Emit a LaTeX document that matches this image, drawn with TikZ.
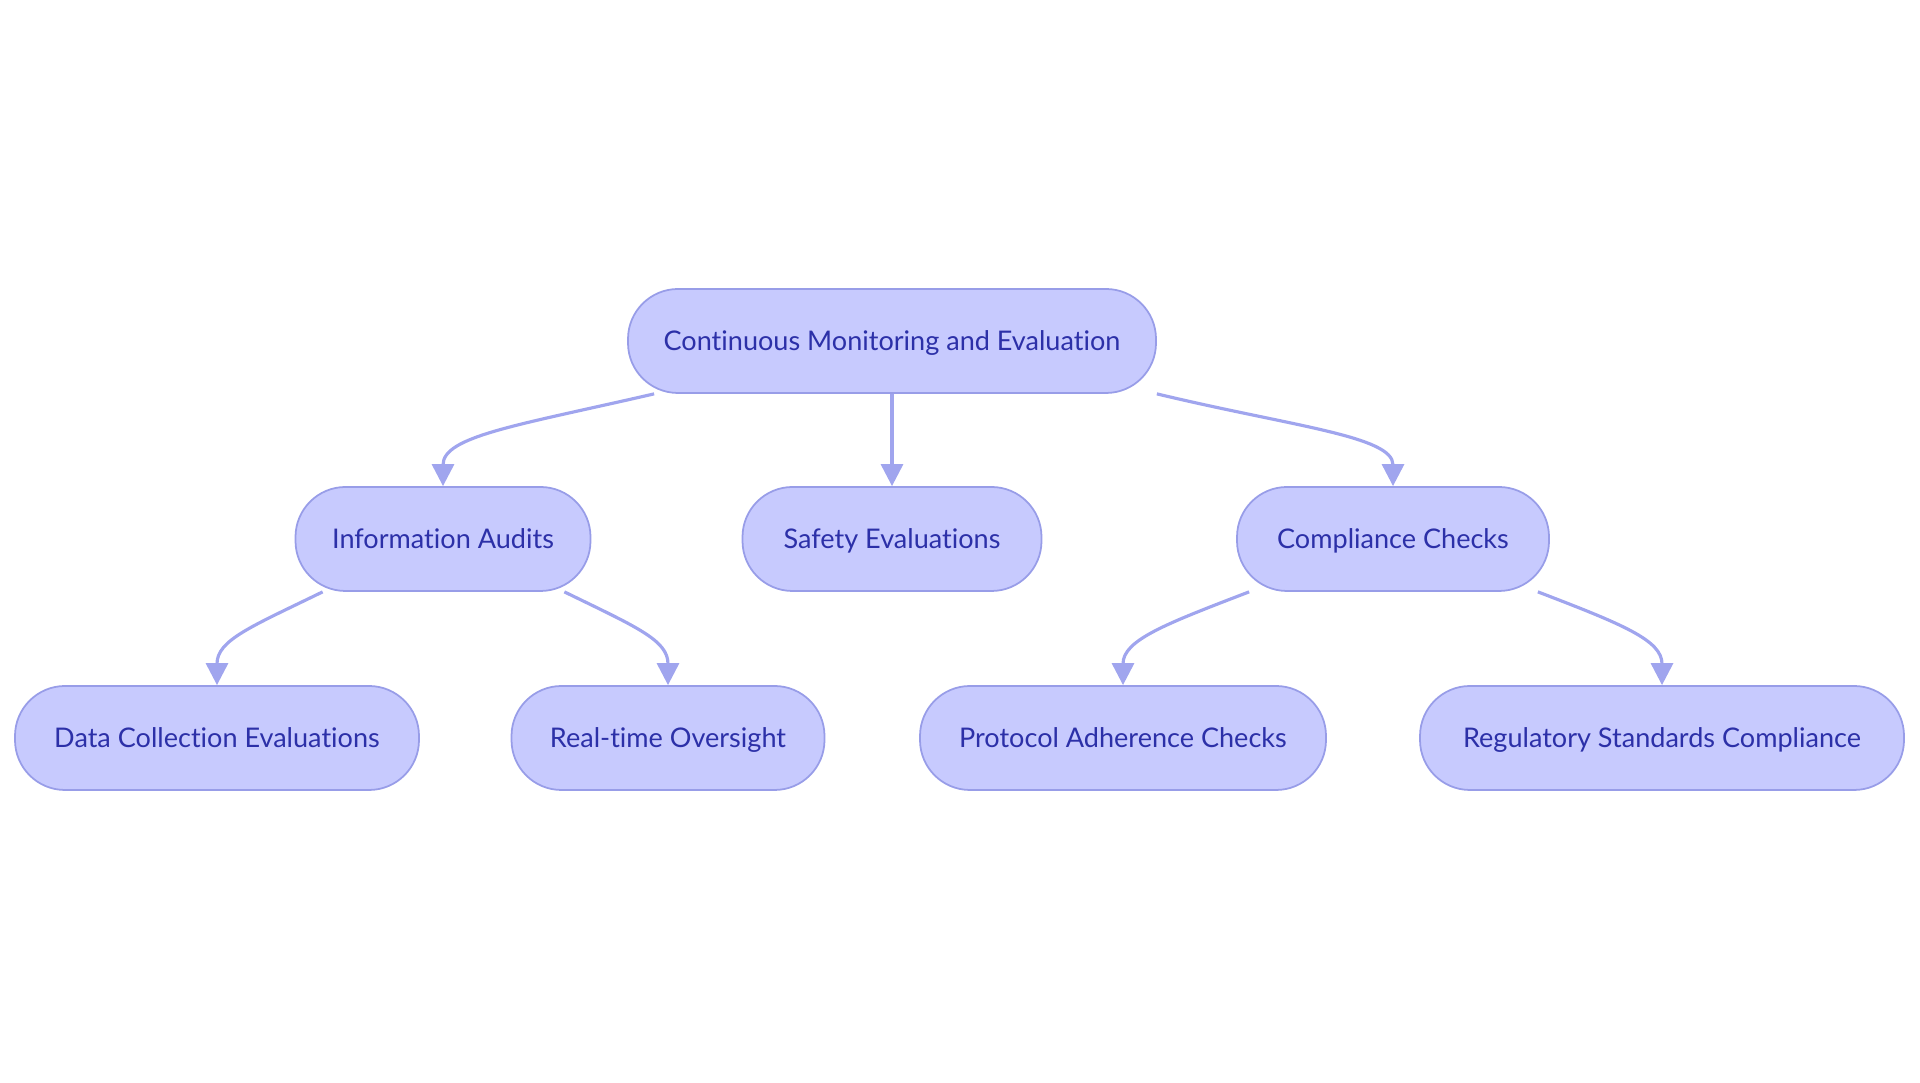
\documentclass[tikz,border=0pt]{standalone}
\usepackage{fontspec}
\setmainfont{Lato}[Ligatures=NoCommon]
\usetikzlibrary{calc}
\usetikzlibrary{positioning}
\usetikzlibrary{arrows.meta}
\definecolor{boxfill}{RGB}{199,202,254}
\definecolor{boxline}{RGB}{152,157,232}
\definecolor{boxtext}{RGB}{44,48,168}
\definecolor{linkline}{RGB}{160,165,238}
\tikzset{every node/.style={align=center},
         topic/.style={ % Sets the properties for each box
           draw=boxline,
           line width=0.5pt,
           fill=boxfill,
           text=boxtext,
           rounded corners=0.5cm,
           minimum height=1.04cm,
           inner xsep=0pt,
           text height=0.72em,
           text depth=0.2em,
           font=\fontsize{7.7}{9.2}\selectfont},
         link/.style={ % Sets the properties for each connector
           draw=linkline,
           line width=0.9pt,
           -{Triangle[length=0.22cm,width=0.22cm]}}}
\begin{document}
\begin{tikzpicture}
  \useasboundingbox (0,0) rectangle (19.20,10.83);

  \node [topic, minimum width=5.28cm] (root) at (8.92,7.42) {Continuous Monitoring and Evaluation};

  \node [topic, minimum width=2.95cm] (audits) at (4.43,5.44) {Information Audits};
  \node [topic, minimum width=2.99cm] (safety) at (8.92,5.44) {Safety Evaluations};
  \node [topic, minimum width=3.12cm] (compliance) at (13.93,5.44) {Compliance Checks};

  \node [topic, minimum width=4.04cm] (datacoll) at (2.17,3.45) {Data Collection Evaluations};
  \node [topic, minimum width=3.13cm] (realtime) at (6.68,3.45) {Real-time Oversight};
  \node [topic, minimum width=4.06cm] (protocol) at (11.23,3.45) {Protocol Adherence Checks};
  \node [topic, minimum width=4.84cm] (regulatory) at (16.62,3.45) {Regulatory Standards Compliance};

  \draw [link] ([xshift=0.27cm]root.south west) .. controls +(193:1.4) and +(90:0.5) .. (audits.north);
  \draw [link] (root.south) -- (safety.north);
  \draw [link] (root.south east) .. controls +(-13.5:1.4) and +(90:0.5) .. (compliance.north);

  \draw [link] ([xshift=0.28cm]audits.south west) .. controls +(206:0.8) and +(90:0.45) .. (datacoll.north);
  \draw [link] ([xshift=-0.27cm]audits.south east) .. controls +(-26:0.8) and +(90:0.45) .. (realtime.north);

  \draw [link] ([xshift=0.13cm]compliance.south west) .. controls +(201:0.9) and +(90:0.45) .. (protocol.north);
  \draw [link] ([xshift=-0.12cm]compliance.south east) .. controls +(-21:0.9) and +(90:0.45) .. (regulatory.north);
\end{tikzpicture}
\end{document}
